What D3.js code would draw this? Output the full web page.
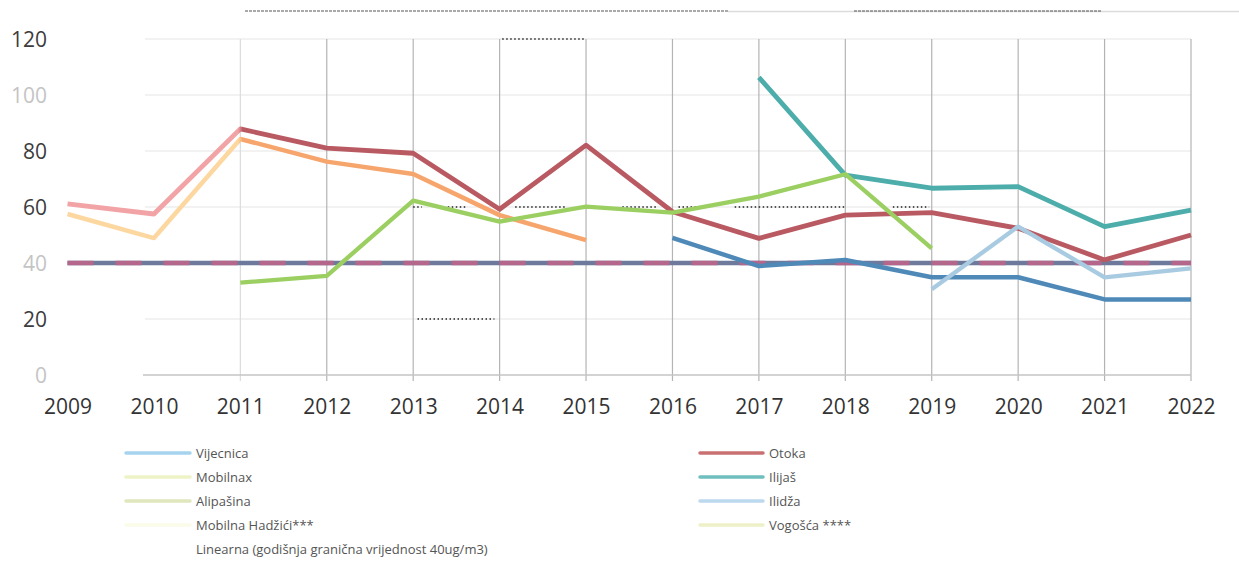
<!DOCTYPE html>
<html><head><meta charset="utf-8">
<script src="https://cdn.jsdelivr.net/npm/d3@7"></script>
<style>
html,body{margin:0;padding:0;background:#fff;}
svg{display:block;}
</style></head>
<body>
<svg id="chart" width="1239" height="573"></svg>
<script>
// ---- data ----
const years = [2009,2010,2011,2012,2013,2014,2015,2016,2017,2018,2019,2020,2021,2022];
const yTicks = [0,20,40,60,80,100,120];
const otoka     = [61.1,57.5,87.9,81,79.2,59.2,82.1,58.3,48.8,57.1,58,52.4,41.1,50];
const mobilnax  = [57.5,48.9,84.3,76.2,71.8,57.1,48.2,null,null,null,null,null,null,null];
const alipasina = [null,null,33,35.4,62.3,54.8,60.1,58,63.7,71.7,45.2,null,null,null];
const ilijas    = [null,null,null,null,null,null,null,null,106.3,71.4,66.7,67.3,53,58.9];
const vijecnica = [null,null,null,null,null,null,null,49,38.9,41.1,34.9,34.9,27,27];
const ilidza    = [null,null,null,null,null,null,null,null,null,null,30.6,53,34.9,38.1];
const limit     = [40,40,40,40,40,40,40,40,40,40,40,40,40,40];
const legendLeft  = ["Vijecnica","Mobilnax","Alipašina","Mobilna Hadžići***","Linearna (godišnja granična vrijednost 40ug/m3)"];
const legendRight = ["Otoka","Ilijaš","Ilidža","Vogošća ****"];
// dotted annotation marks (scan remnants): [fromYear, toYear, value]
const dotted = [[2013.0,2013.1,60],[2013.4,2013.62,60],[2014.18,2014.78,60],[2015.42,2015.82,60],[2016.07,2016.33,60],[2016.72,2018.0,60],[2018.55,2018.97,60],[2013.05,2013.94,20],[2014.03,2015.0,120]];

// ---- styles ----
const svg = d3.select("#chart");
const x = d3.scaleLinear().domain([2009,2022]).range([67.5,1191]);
const y = d3.scaleLinear().domain([0,120]).range([375,39]);
const FONT = "'Open Sans', 'Noto Sans', sans-serif";

// scan header rule
const hdr = svg.append("g");
hdr.append("line").attr("x1",728).attr("x2",1239).attr("y1",11.5).attr("y2",11.5).attr("stroke","#dcdcdc").attr("stroke-width",1.5);
hdr.append("line").attr("x1",245).attr("x2",728).attr("y1",11).attr("y2",11).attr("stroke","#555").attr("stroke-width",1).attr("stroke-dasharray","3 1");
hdr.append("line").attr("x1",854).attr("x2",1102).attr("y1",11).attr("y2",11).attr("stroke","#555").attr("stroke-width",1).attr("stroke-dasharray","3 1");

// horizontal gridlines
svg.append("g").selectAll("line").data(yTicks.filter(d=>d>0)).join("line")
  .attr("x1",145).attr("x2",x(2022))
  .attr("y1",d=>y(d)).attr("y2",d=>y(d))
  .attr("stroke","#e6e6e6").attr("stroke-width",1.2);

// vertical gridlines
svg.append("g").selectAll("line").data(years.filter(d=>d>=2011)).join("line")
  .attr("x1",d=>x(d)).attr("x2",d=>x(d))
  .attr("y1",y(120)).attr("y2",y(0)+6)
  .attr("stroke",d=>d===2011?"#dcdcdc":"#b4b4b4").attr("stroke-width",1.2);

// x axis line
svg.append("line").attr("x1",143).attr("x2",x(2022)).attr("y1",y(0)).attr("y2",y(0))
  .attr("stroke","#c4c4c4").attr("stroke-width",1.5);

// axis labels via d3 axes
const fadedY = new Set([0,40,100]);
const yAxis = svg.append("g").attr("transform","translate(47,0)")
  .call(d3.axisLeft(y).tickValues(yTicks).tickSize(0).tickPadding(0));
yAxis.select(".domain").remove();
yAxis.selectAll("text").attr("font-family",FONT).attr("font-size",21)
  .attr("fill",d=>fadedY.has(d)?"#c4c4c4":"#3c3c3c").attr("text-anchor","end").attr("dy","0.35em");

const xAxis = svg.append("g").attr("transform","translate(0,"+(y(0))+")")
  .call(d3.axisBottom(x).tickValues(years).tickFormat(d3.format("d")).tickSize(0).tickPadding(0));
xAxis.select(".domain").remove();
xAxis.selectAll("text").attr("font-family",FONT).attr("font-size",21).attr("fill","#333").attr("dy","0").attr("y",39);

// dotted annotations
svg.append("g").selectAll("line").data(dotted).join("line")
  .attr("x1",d=>x(d[0])).attr("x2",d=>x(d[1])).attr("y1",d=>y(d[2])).attr("y2",d=>y(d[2]))
  .attr("stroke","#222").attr("stroke-width",1.6).attr("stroke-dasharray","1.5 2.5");

// gradients to imitate scan colouring
const defs = svg.append("defs");
function grad(id, c1, c2){
  const f = (2011-2009)/(2022-2009);
  const g = defs.append("linearGradient").attr("id",id).attr("gradientUnits","userSpaceOnUse")
    .attr("x1",x(2009)).attr("x2",x(2022)).attr("y1",0).attr("y2",0);
  g.append("stop").attr("offset",f-0.002).attr("stop-color",c1);
  g.append("stop").attr("offset",f+0.002).attr("stop-color",c2);
  g.append("stop").attr("offset",1).attr("stop-color",c2);
}
grad("gOtoka","#f2a3a6","#b95a63");
grad("gMob","#fdd7a0","#f6a56c");

const line = d3.line().defined(d=>d.v!=null).x(d=>x(d.y)).y(d=>y(d.v));
function series(vals){ return years.map((yr,i)=>({y:yr,v:vals[i]})); }
function draw(vals, stroke, w, dash){
  const p = svg.append("path").datum(series(vals)).attr("d",line)
    .attr("fill","none").attr("stroke",stroke).attr("stroke-width",w)
    .attr("stroke-linejoin","round").attr("stroke-linecap","butt");
  if(dash) p.attr("stroke-dasharray",dash);
  return p;
}
// limit line (two overlapped colours in the scan)
draw(limit,"#6e7a9c",4.5);
draw(limit,"#b4678a",4.5,"26 22");
draw(otoka,"url(#gOtoka)",4.8);
draw(mobilnax,"url(#gMob)",4.5);
draw(vijecnica,"#4f89b8",4.5);
draw(ilijas,"#4cadab",4.8);
draw(alipasina,"#9ccf62",4.3);
draw(ilidza,"#a9cbe2",4.3);

// legend
const legColL = ["#a6d3ee","#eef3c6","#dfe8bc","#fafbe8",null];
const legColR = ["#c97172","#6fbfbe","#bcd9ee","#eef1c8"];
const lg = svg.append("g").attr("font-family",FONT).attr("font-size",13).attr("fill","#555");
legendLeft.forEach((t,i)=>{
  const yy = 453 + i*24;
  if(legColL[i]) lg.append("line").attr("x1",126).attr("x2",190).attr("y1",yy).attr("y2",yy)
    .attr("stroke",legColL[i]).attr("stroke-width",3.5).attr("stroke-linecap","round");
  lg.append("text").attr("x",196).attr("y",yy).attr("dy","0.35em").text(t);
});
legendRight.forEach((t,i)=>{
  const yy = 453 + i*24;
  lg.append("line").attr("x1",700).attr("x2",763).attr("y1",yy).attr("y2",yy)
    .attr("stroke",legColR[i]).attr("stroke-width",3.5).attr("stroke-linecap","round");
  lg.append("text").attr("x",769).attr("y",yy).attr("dy","0.35em").text(t);
});
</script>
</body></html>
